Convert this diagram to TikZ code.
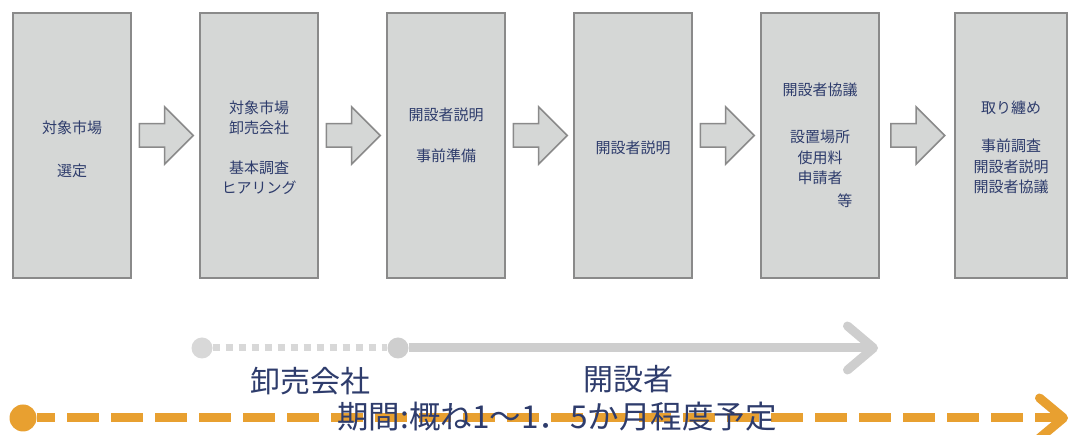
\documentclass[tikz,border=0pt]{standalone}
\usepackage{fontspec}
\setmainfont{Noto Sans CJK JP}
\usepackage{xcolor}
\usetikzlibrary{positioning,shapes.arrows,arrows.meta}
\definecolor{boxfill}{RGB}{213,215,214}
\definecolor{boxline}{RGB}{138,138,138}
\definecolor{navy}{RGB}{46,60,108}
\definecolor{railgray}{RGB}{206,206,206}
\definecolor{dotgray}{RGB}{216,216,216}
\definecolor{amber}{RGB}{232,160,48}

\begin{document}
\begin{tikzpicture}[x=1pt, y=1pt, node distance=69pt,
  stage/.style={draw=boxline, fill=boxfill, line width=1.8pt, rectangle, minimum width=118pt, minimum height=265pt, inner sep=0pt, outer sep=0pt},
  stagetext/.style={align=center, inner sep=0pt, text=navy, font=\fontsize{15}{20.5}\selectfont},
  blockarrow/.style={draw=boxline, fill=boxfill, line width=1.5pt, single arrow, minimum height=54pt, minimum width=56pt, single arrow head extend=17pt, inner xsep=0pt, inner ysep=11pt},
  biglabel/.style={text=navy, inner sep=0pt, font=\fontsize{30}{32}\selectfont}]
 \useasboundingbox (0,0) rectangle (1070,435);
 %Nodes
	\node[stage] (select) at (72,289.5) {};
	\node[stage, right=of select] (survey) {};
	\node[stage, right=of survey] (prep) {};
	\node[stage, right=of prep] (explain) {};
	\node[stage, right=of explain] (consult) {};
	\node[stage, minimum width=112pt, right=76pt of consult] (summary) {};
	% Texts
	\node[stagetext, below=107.5pt of select.north] (selecttext) {対象市場\\[23pt]選定};
	\node[stagetext, below=87.5pt of survey.north] (surveytext) {対象市場\\卸売会社\\[19pt]基本調査\\ヒアリング};
	\node[stagetext, below=94.5pt of prep.north] (preptext) {開設者説明\\[21pt]事前準備};
	\node[stagetext, below=127.5pt of explain.north] (explaintext) {開設者説明};
	\node[stagetext, below=69.5pt of consult.north] (consulttext) {開設者協議\\[27pt]設置場所\\使用料\\申請者\\[2pt]\hspace*{3.3em}等};
	\node[stagetext, below=87.5pt of summary.north] (summarytext) {取り纏め\\[18pt]事前調査\\開設者説明\\開設者協議};
	% Arrows
	\node[blockarrow, right=7.5pt of select, yshift=10pt] (a1) {};
	\node[blockarrow, right=7.5pt of survey, yshift=10pt] (a2) {};
	\node[blockarrow, right=7.5pt of prep, yshift=10pt] (a3) {};
	\node[blockarrow, right=7.5pt of explain, yshift=10pt] (a4) {};
	\node[blockarrow, right=11pt of consult, yshift=10pt] (a5) {};
	% Timeline
	\node[circle, fill=dotgray, minimum size=21pt, inner sep=0pt] (wstart) at (202,87) {};
	\node[circle, fill=railgray, minimum size=21pt, inner sep=0pt] (ostart) at (398,87) {};
	\coordinate (oend) at (878,87);
	\node[circle, fill=amber, minimum size=27pt, inner sep=0pt] (pstart) at (23,17) {};
	\coordinate (pend) at (1068,17);
	\draw[dotgray, line width=7pt, dash pattern=on 7pt off 6pt] (wstart) -- (ostart);
	\draw[railgray, line width=9pt, -{Straight Barb[round, length=26pt, width=44pt]}] (ostart) -- (oend);
	\draw[amber, line width=9pt, dash pattern=on 32pt off 12pt, dash phase=13.5pt, -{Straight Barb[round, length=24pt, width=40pt]}] (pstart) -- (pend);
	\node[biglabel] (wlabel) at (310,54) {卸売会社};
	\node[biglabel] (olabel) at (628,56) {開設者};
	\node[biglabel, font=\fontsize{31.5}{33}\selectfont] (period) at (557,18) {期間:概ね1～1．5か月程度予定};
\end{tikzpicture}
\end{document}
